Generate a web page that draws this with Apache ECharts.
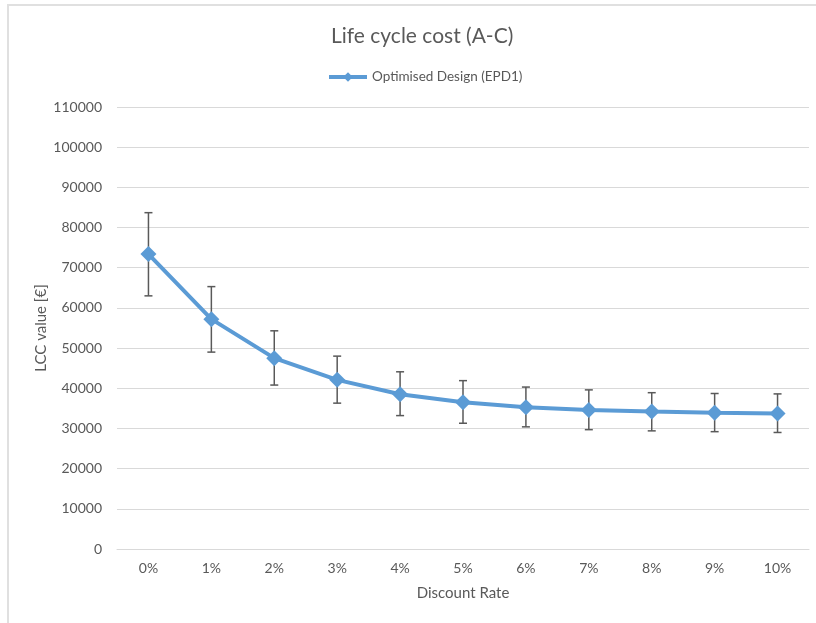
<!DOCTYPE html>
<html>
<head>
<meta charset="utf-8">
<script src="https://cdn.jsdelivr.net/npm/echarts@6/dist/echarts.min.js"></script>
<style>
  html, body { margin: 0; padding: 0; background: #fff; }
  #chart { width: 816px; height: 623px; }
</style>
</head>
<body>
<div id="chart"></div>
<script>
// Discount rate categories
const rates = ['0%', '1%', '2%', '3%', '4%', '5%', '6%', '7%', '8%', '9%', '10%'];
// Mean life cycle cost (A-C) per discount rate, in €
const lccMean = [73400, 57200, 47500, 42100, 38500, 36500, 35300, 34600, 34200, 33900, 33700];
// Lower and upper ends of the error bars
const lccLow  = [63000, 49000, 40800, 36300, 33200, 31300, 30400, 29700, 29400, 29200, 29000];
const lccHigh = [83700, 65300, 54300, 48000, 44100, 41900, 40300, 39600, 38900, 38700, 38600];
// Value axis range
const yMin = 0, yMax = 110000, yStep = 10000;

const textColor = '#595959';
const fontFamily = 'Lato, "Liberation Sans", sans-serif';

const chart = echarts.init(document.getElementById('chart'));
chart.setOption({
  backgroundColor: '#fff',
  textStyle: { fontFamily: fontFamily },
  graphic: [{
    type: 'rect',
    shape: { x: 8, y: 5, width: 830, height: 640 },
    style: { fill: 'none', stroke: '#e0e0e0', lineWidth: 2 },
    silent: true
  }],
  title: {
    text: 'Life cycle cost (A-C)',
    left: 326,
    top: 21,
    textStyle: { color: textColor, fontSize: 21, fontWeight: 'normal', fontFamily: fontFamily }
  },
  legend: {
    data: ['Optimised Design (EPD1)'],
    top: 65,
    left: 322,
    itemWidth: 38,
    itemHeight: 12,
    itemGap: 4,
    lineStyle: { width: 4 },
    textStyle: { color: textColor, fontSize: 13.5, fontFamily: fontFamily }
  },
  grid: { left: 117, right: 7, top: 107, bottom: 74 },
  xAxis: {
    type: 'category',
    data: rates,
    boundaryGap: true,
    name: 'Discount Rate',
    nameLocation: 'middle',
    nameGap: 37,
    nameMoveOverlap: false,
    nameTextStyle: { color: textColor, fontSize: 15, fontFamily: fontFamily },
    axisLine: { lineStyle: { color: '#d9d9d9', width: 1 } },
    axisTick: { show: false },
    axisLabel: { color: textColor, fontSize: 14, margin: 12, fontFamily: fontFamily }
  },
  yAxis: {
    type: 'value',
    min: yMin,
    max: yMax,
    interval: yStep,
    name: 'LCC value [€]',
    nameLocation: 'middle',
    nameGap: 68,
    nameMoveOverlap: false,
    nameTextStyle: { color: textColor, fontSize: 15, fontFamily: fontFamily },
    axisLine: { show: false },
    axisTick: { show: false },
    axisLabel: {
      color: textColor, fontSize: 14, margin: 15, fontFamily: fontFamily,
      formatter: function (v) { return String(v); }
    },
    splitLine: { lineStyle: { color: '#d9d9d9', width: 1 } }
  },
  series: [
    {
      name: 'Error',
      type: 'custom',
      silent: true,
      z: 1,
      data: rates.map((r, i) => [i, lccLow[i], lccHigh[i]]),
      renderItem: function (params, api) {
        const lo = api.coord([api.value(0), api.value(1)]);
        const hi = api.coord([api.value(0), api.value(2)]);
        const cap = 4;
        const style = { stroke: '#595959', lineWidth: 1.5, fill: 'none' };
        return {
          type: 'group',
          children: [
            { type: 'line', shape: { x1: hi[0], y1: hi[1], x2: lo[0], y2: lo[1] }, style: style },
            { type: 'line', shape: { x1: hi[0] - cap, y1: hi[1], x2: hi[0] + cap, y2: hi[1] }, style: style },
            { type: 'line', shape: { x1: lo[0] - cap, y1: lo[1], x2: lo[0] + cap, y2: lo[1] }, style: style }
          ]
        };
      }
    },
    {
      name: 'Optimised Design (EPD1)',
      type: 'line',
      data: lccMean,
      z: 3,
      symbol: 'diamond',
      symbolSize: 16,
      showAllSymbol: true,
      lineStyle: { color: '#5b9bd5', width: 4 },
      itemStyle: { color: '#5b9bd5' },
      animation: false
    }
  ],
  animation: false
});
</script>
</body>
</html>
